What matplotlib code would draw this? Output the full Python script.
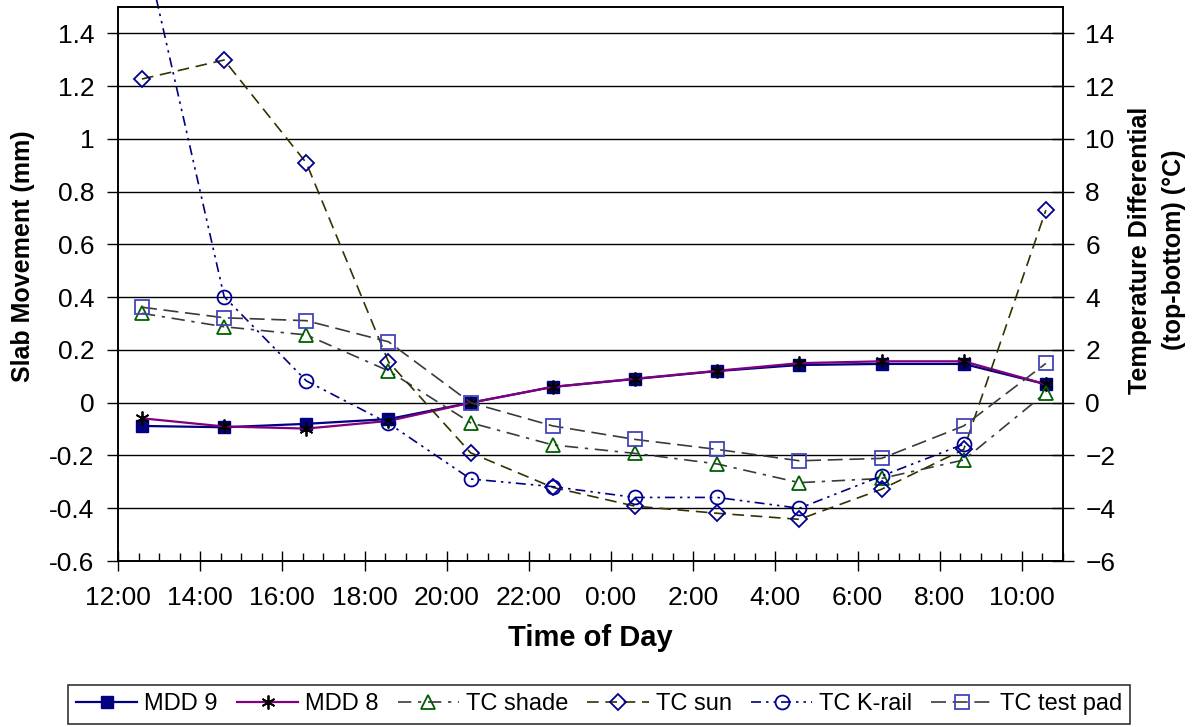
import matplotlib.pyplot as plt
import numpy as np

plt.rcParams['font.family'] = ['Liberation Sans', 'DejaVu Sans']

# reading times (clock), the plot runs from 12:00 for 23 hours
times = ['12:35', '14:35', '16:35', '18:35', '20:35', '22:35',
         '0:35', '2:35', '4:35', '6:35', '8:35', '10:35']
tick_labels = ['12:00', '14:00', '16:00', '18:00', '20:00', '22:00',
               '0:00', '2:00', '4:00', '6:00', '8:00', '10:00']

# slab movement (mm), left axis
mdd9 = [-0.088, -0.093, -0.080, -0.062, 0.0, 0.060, 0.090, 0.120, 0.143, 0.147, 0.147, 0.070]
mdd8 = [-0.059, -0.090, -0.098, -0.069, 0.0, 0.060, 0.091, 0.121, 0.150, 0.157, 0.157, 0.070]

# temperature differential (C), right axis
tc_shade = [3.39, 2.88, 2.57, 1.21, -0.76, -1.60, -1.92, -2.32, -3.03, -2.87, -2.17, 0.38]
tc_sun = [12.27, 12.99, 9.09, 1.55, -1.90, -3.21, -3.92, -4.19, -4.42, -3.28, -1.77, 7.30]
tc_krail = [17.7, 4.02, 0.83, -0.78, -2.89, -3.18, -3.59, -3.59, -4.00, -2.78, -1.57, np.nan]
tc_testpad = [3.62, 3.22, 3.11, 2.31, 0.0, -0.88, -1.39, -1.77, -2.20, -2.11, -0.88, 1.49]


def hours_after_noon(t):
    h, m = t.split(':')
    return (int(h) - 12) % 24 + int(m) / 60.0


x = [hours_after_noon(t) for t in times]
xt = [hours_after_noon(t) for t in tick_labels]

fig = plt.figure(figsize=(11.98, 7.27), dpi=100)
ax = fig.add_axes([0.0985, 0.2283, 0.7888, 0.7621])
ax2 = ax.twinx()

ax.plot(x, mdd9, color='#000080', lw=1.6, marker='s', ms=9, mfc='#000080',
        mec='#000080', label='MDD 9', zorder=3)
ax.plot(x, mdd8, color='#800080', lw=1.6, marker=(6, 2, 0), ms=10, mec='black',
        mew=1.3, label='MDD 8', zorder=3)

ax2.plot(x, tc_shade, color='#3a3a3a', lw=1.2, ls=(0, (8, 4, 2, 4)),
         marker='^', ms=10, mfc='none', mec='#006000', mew=1.3, label='TC shade')
ax2.plot(x, tc_sun, color='#333300', lw=1.2, ls=(0, (7, 4)),
         marker='D', ms=8, mfc='none', mec='#000090', mew=1.3, label='TC sun')
ax2.plot(x, tc_krail, color='#000080', lw=1.2, ls=(0, (6, 3, 1.5, 3, 1.5, 3)),
         marker='o', ms=10, mfc='none', mec='#000099', mew=1.3, label='TC K-rail',
         clip_on=False)
ax2.plot(x, tc_testpad, color='#3a3a3a', lw=1.2, ls=(0, (9, 4)),
         marker='s', ms=10, mfc='none', mec='#4444bb', mew=1.3, label='TC test pad')

ax.set_xlim(0, 23)
ax.set_ylim(-0.6, 1.5)
ax2.set_ylim(-6, 15)

ax.set_xticks(xt)
ax.set_xticklabels(tick_labels)
ax.set_xticks(np.arange(0, 23.01, 0.5), minor=True)
ax.tick_params(axis='x', which='major', direction='inout', length=14, width=1,
               labelsize=19, pad=11)
ax.tick_params(axis='x', which='minor', direction='in', length=6, width=1)

ax.set_yticks(np.arange(-0.6, 1.41, 0.2))
ax.set_yticklabels(['-0.6', '-0.4', '-0.2', '0', '0.2', '0.4', '0.6', '0.8', '1', '1.2', '1.4'])
ax.tick_params(axis='y', direction='out', length=8, width=1, labelsize=19, pad=9)
ax2.set_yticks(np.arange(-6, 14.1, 2))
ax2.tick_params(axis='y', direction='inout', length=16, width=1, labelsize=19, pad=8)

ax.yaxis.grid(True, color='black', lw=1)
ax.set_axisbelow(True)

for a in (ax, ax2):
    for s in a.spines.values():
        s.set_color('black')
        s.set_linewidth(1.2)

ax.set_xlabel('Time of Day', fontsize=21, fontweight='bold', labelpad=10)
ax.set_ylabel('Slab Movement (mm)', fontsize=18, fontweight='bold')
ax.yaxis.set_label_coords(-0.088, 0.55)
ax2.set_ylabel('Temperature Differential\n(top-bottom) (\u00b0C)', fontsize=18,
               fontweight='bold', linespacing=1.5, rotation=90)
ax2.yaxis.set_label_coords(1.069, 0.561)

h1, l1 = ax.get_legend_handles_labels()
h2, l2 = ax2.get_legend_handles_labels()
leg = fig.legend(h1 + h2, l1 + l2, loc='center', bbox_to_anchor=(0.5, 0.031),
                 ncol=6, fontsize=17, frameon=True, fancybox=False, edgecolor='black',
                 handlelength=2.6, handletextpad=0.3, columnspacing=0.8,
                 borderpad=0.35, borderaxespad=0)
leg.get_frame().set_linewidth(1.2)

fig.savefig('out.png', dpi=100)
